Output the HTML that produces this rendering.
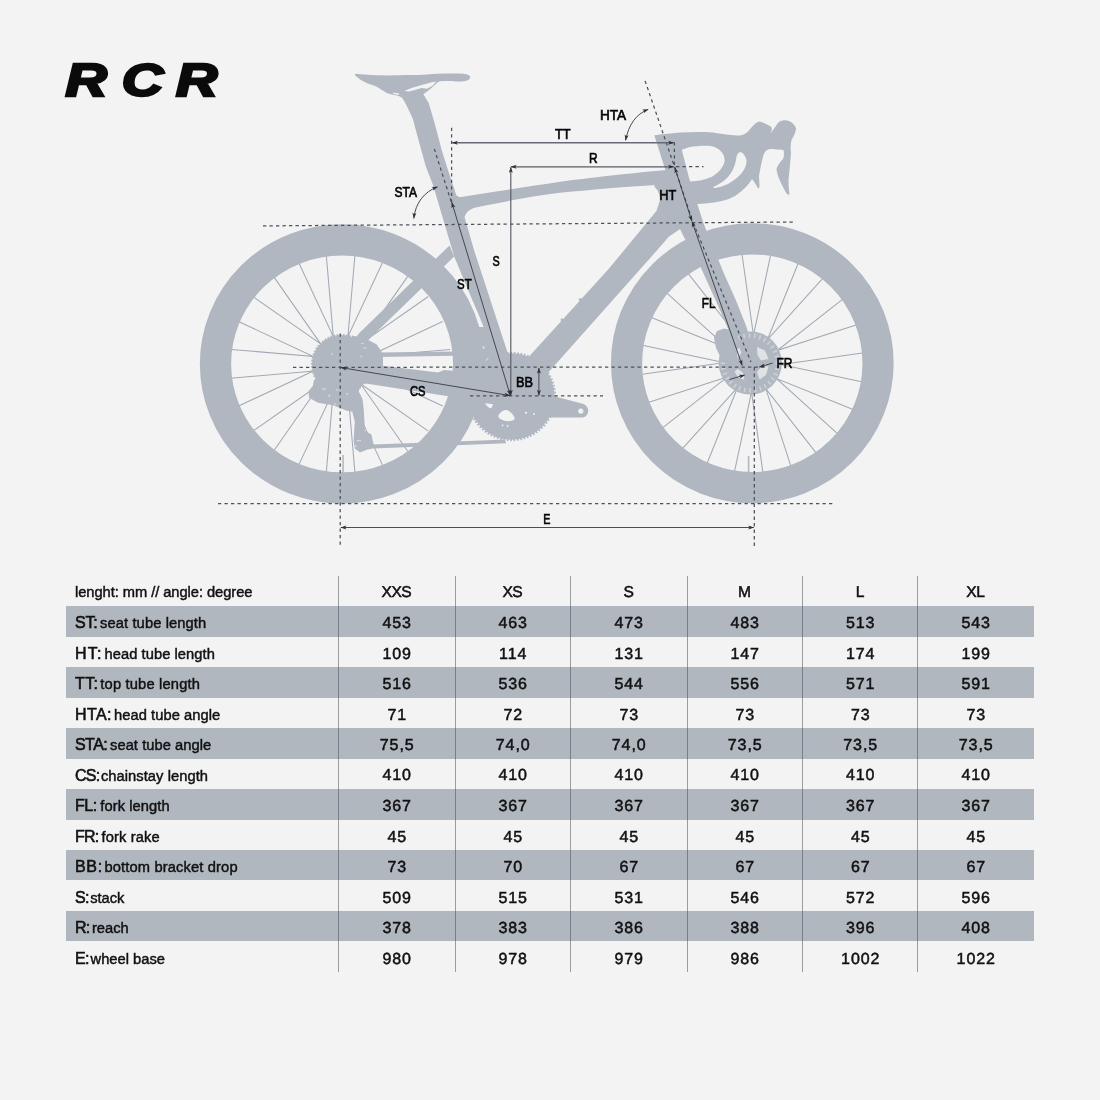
<!DOCTYPE html>
<html lang="en"><head><meta charset="utf-8"><title>RCR geometry</title>
<style>
html,body{margin:0;padding:0}
body{width:1100px;height:1100px;background:#f3f3f3;position:relative;overflow:hidden;font-family:"Liberation Sans",sans-serif;color:#111}
#tbl{position:absolute;left:0;top:0;width:1100px;height:1100px}
.row{position:absolute;left:65.6px;width:968.2px;height:30.45px}
.row.band{background:#b0b7bf}
.lab{position:absolute;left:9.4px;top:0;line-height:30.5px;font-size:14.7px;white-space:nowrap;padding-top:8px;line-height:18px;-webkit-text-stroke:0.45px #111;letter-spacing:-0.05px}
.lab b{font-weight:normal;font-size:16px;-webkit-text-stroke:0.6px #111;letter-spacing:-0.1px}
.lab.hd{padding-top:6.9px}
.v{position:absolute;top:0;width:116px;text-align:center;font-size:16px;line-height:18px;padding-top:8.6px;letter-spacing:0.9px;text-indent:1.2px;text-rendering:geometricPrecision;-webkit-text-stroke:0.5px #111}
.head .v{letter-spacing:-0.6px;text-indent:-0.6px;padding-top:8.05px;font-size:15.6px}
.c0{left:273px}.c1{left:389px}.c2{left:505px}.c3{left:621px}.c4{left:736.5px}.c5{left:852px}
.vl{position:absolute;top:575.6px;width:1px;height:396px;background:rgba(70,76,86,0.52)}
</style></head><body>
<svg width="1100" height="565" viewBox="0 0 1100 565" style="position:absolute;left:0;top:0">
<defs>
<marker id="ah" viewBox="-6 -4 8 8" markerWidth="8" markerHeight="8" refX="0" refY="0" orient="auto-start-reverse" markerUnits="userSpaceOnUse"><path d="M0.3 0L-5.6 -2L-4.2 0L-5.6 2Z" fill="#2e3138" stroke="none"/></marker>
</defs>
<g id="logo" font-family="'Liberation Sans',sans-serif" font-weight="bold" font-style="italic" font-size="45.5" fill="#0b0b0b" stroke="#0b0b0b" stroke-width="2.6" stroke-linejoin="miter">
<text transform="translate(65.5 96) scale(1.26 1)" x="0.00 44.6 87.7" y="0">RCR</text>
</g>
<g id="bike" fill="#b0b7c0" stroke="none">
<path d="M355.0 254.2L345.6 363.6M382.9 261.7L336.4 361.1M407.9 276.1L345.0 366.1M428.3 296.5L338.3 359.4M442.7 321.5L343.3 368.0M450.2 349.4L340.8 358.8M450.2 378.2L340.8 368.8M442.7 406.1L343.3 359.6M428.3 431.1L338.3 368.2M407.9 451.5L345.0 361.5M382.9 465.9L336.4 366.5M355.0 473.4L345.6 364.0M326.2 473.4L335.6 364.0M298.3 465.9L344.8 366.5M273.3 451.5L336.2 361.5M252.9 431.1L342.9 368.2M238.5 406.1L337.9 359.6M231.0 378.2L340.4 368.8M231.0 349.4L340.4 358.8M238.5 321.5L337.9 368.0M252.9 296.5L342.9 359.4M273.3 276.1L336.2 366.1M298.3 261.7L344.8 361.1M326.2 254.2L335.6 363.6" fill="none" stroke="#a2a9b4" stroke-width="1.05"/>
<path d="M741.9 253.6L757.3 362.3M770.7 254.6L747.8 361.9M798.3 263.0L757.3 364.9M822.8 278.3L749.3 359.8M842.5 299.4L756.1 367.1M856.0 324.9L751.6 358.7M862.5 353.0L753.8 368.4M861.5 381.8L754.2 358.9M853.1 409.4L751.2 368.4M837.8 433.9L756.3 360.4M816.7 453.6L749.0 367.2M791.2 467.1L757.4 362.7M763.1 473.6L747.7 364.9M734.3 472.6L757.2 365.3M706.7 464.2L747.7 362.3M682.2 448.9L755.7 367.4M662.5 427.8L748.9 360.1M649.0 402.3L753.4 368.5M642.5 374.2L751.2 358.8M643.5 345.4L750.8 368.3M651.9 317.8L753.8 358.8M667.2 293.3L748.7 366.8M688.3 273.6L756.0 360.0M713.8 260.1L747.6 364.5" fill="none" stroke="#a2a9b4" stroke-width="1.05"/>
<ellipse cx="342.1" cy="363.9" rx="126.6" ry="124.05" fill="none" stroke="#b0b7c0" stroke-width="31.3"/>
<ellipse cx="752.3" cy="363.2" rx="125.75" ry="124.4" fill="none" stroke="#b0b7c0" stroke-width="31.2"/>
<rect x="342.3" y="455" width="1.5" height="19"/><rect x="747.8" y="456" width="1.6" height="19"/>
<path d="M355.3 73.7 C359 74.2 363 74.5 367.7 74.7 C374 75.1 380 75.3 385.5 75.4 C394 75.5 402 75.3 409.1 75.1 C415 74.9 421 74.7 426.8 74.4 C433 74.1 439 73.8 444.6 73.6 C451 73.4 458 73.4 463.5 73.8 C467.5 74.2 470.3 75.4 470.2 77.2 C470 79.4 468 80.6 465.2 81 C462 81.5 459 81.6 456.4 81.5 C454.5 81.3 453 81 451.7 81 C447.5 80.9 443.5 81.1 439.8 81.3 C438.5 82 437.3 82.8 436.3 83.6 C434.2 85.4 432.3 87.2 430.4 89 C428 90.9 425.6 92.7 423.3 94.3 L426.8 100.2 L430.4 112 L411.5 112 L402 97.8 C400.5 97 399 96.1 397.3 95.5 C394.5 95 391.5 94.6 389 93.7 C385.5 92.3 382.5 90.3 379.6 88.4 C375.8 86.3 371.8 84.8 367.7 83.6 C363 81.6 358.5 78.8 355.3 75.6 C354.9 75 354.9 74.1 355.3 73.7 Z"/>
<path fill="#f3f3f3" d="M404.2 91 L411.5 88 L420.9 85.2 L432.7 82 L436.2 81.6 L432.2 86 L427 88.7 L421.5 88.1 L415 89.9 L409 91.4 Z"/>
<path fill="#f3f3f3" d="M392.8 92.6 L399.4 93.6 L398.4 95 L393.6 94 Z"/>
<path d="M403.5 99 L423 94.5 L428.7 103.1 L434.5 122.7 L441.8 150.4 L449.1 173.6 L456.4 195.5 L459.5 197.2 L470 206 C466 209 464 212.5 464.5 217 L474 250 L502.4 336.7 L507.8 353 L519 398 L470 398 L470 327 L483.6 327 Q478.5 313.5 472.3 300 L454.2 256.4 L450.9 245.5 L440.4 210 L433.1 185.3 L425.8 166.4 L419.3 143.1 L412.7 118.4 Z"/>
<path d="M455.5 195.6 L459.5 197.2 C495 191.5 530 186.5 560 181.8 C600 176.3 640 172.5 666 170 L672 186 L656 185 C625 186.5 595 189.5 560 192.8 C530 196.3 500 202.5 478 207 C471 208.4 466.5 211 464.5 217 L458 200 Z"/>
<path d="M654.4 135.6 L690 133.4 L681.8 149.7 L689.2 178.4 L697.3 204 L703.6 223.6 L723.6 272.7 L735.8 300 L746 325.5 L753 348 L748 372 L738 366 L732 338 L715.5 300 L698.2 261.8 L683.6 236.4 L680 229 L660 215 L660 201.8 C660 196 659 190.5 654 186.2 L666 172 Z"/>
<path d="M660 200 L681 228.6 L669 236.4 L656.4 251 L549 371.8 L520 400 L505 380 L529 356.4 L560 322.4 L609 268.6 L656.4 211 Z"/>
<circle cx="580.3" cy="299.6" r="1.5"/><circle cx="562" cy="319.8" r="1.5"/><circle cx="489.2" cy="311.5" r="1.4"/><circle cx="495" cy="334" r="1.4"/>
<path fill="#f3f3f3" opacity="0.75" d="M482.6 346.4 L484 346 L484.6 348.6 L483.2 349 Z M485.2 360.4 L488.6 357.4 L489.2 358.2 L485.8 361.2 Z"/>
<path d="M449.5 245.5 L454.2 256.6 L369.3 339 L350 366 L338 360 L359.1 333.3 Z"/>
<path d="M340 358 L381 365.6 L438 372.6 L444 370 L470 372 L512 388 L512 402 L450 396.6 L362.7 383 L338 374 Z"/>
<path d="M654.4 135.6 L660 134.6 C680 131.8 700 131.6 713 132.4 C725 134.2 733 135.6 740 135.5 C746 134.5 748 131.5 751 128 C754 124.5 756 122.5 759 121.5 C762 121.6 766 124 770 126 C772.5 127.5 772.5 130 770 134 C772 132 775 127 778 123 C780 120.6 783.5 119.6 787 120.5 C790.5 121.2 794 123.5 796 128 C796.3 131 794 136 791.5 140 C790.3 145 790.6 150 791 152 C790.6 160 789.4 172 788.5 180 C788.4 186 789 190 789.5 194 L788 195 C786 193 783.5 188 782 185 C780 181 777.6 176 776.5 170 C776.6 167 779 163 783 159 C784.2 156 784.2 153 783.5 150 L779 149.5 C775 149.5 771 149 770 149 C767 149.6 765 151 763.5 155 C762 160 760 170 759 176 C759 180 759.6 183 759.5 186 L759 188.5 L757.5 187.5 C756 185 754.5 182 752 179 C749 184 744 190 735 196 C727 200.5 718 202.5 705 203.4 L697.3 204 L688 204 L682 181.6 L690.8 181.6 C698 181 705 180 712 176.7 C718 173 722.5 168.5 724.5 162 C725.3 156 722 150.5 715.3 147.3 C709 145.2 700 145.6 689.1 147.3 L681.8 149.7 Z"/>
<path fill="#f3f3f3" d="M740 152 C742.5 152.2 745 155 746.5 160 C746.6 165 745 169.5 740 175 C734 181 726 185.5 720 187 C717 187.8 713.5 188.4 713 187.2 C716 185.8 722 183 728 177 C732 172.5 735 166 736 160 C736.3 156.5 737.5 153 740 152 Z"/>
<circle cx="341.5" cy="364.5" r="29.6"/>
<circle cx="341.5" cy="364.5" r="29.6" fill="none" stroke="#b0b7c0" stroke-width="2" stroke-dasharray="1.6 1.6"/>
<path d="M352 335.5 L366.3 339 L376.5 344.2 L381.6 351.8 L383 358.5 L383 368 L352 368 Z"/>
<path d="M314 380 L312.8 386 L308.4 391.3 L309 397.7 L318 402.7 L333.2 405.3 L346 410.4 L352.3 411.7 L354.8 421.8 L353.6 441 L354.8 448.6 L360 452.4 L366.3 449.9 L374 446.5 L371.4 434.6 L365 430.8 L363.7 409.1 L362.5 399 L358.7 391.3 L361.2 385 L340 372 Z"/>
<path fill="#f3f3f3" opacity="0.55" d="M331 353.5h2.2v1.2h-2.2z M361 343h2.6v1.1h-2.6z M363.5 347.6h3v1.2h-3z M360.6 355.5h1.4v2h-1.4z M322 388.4h4.2v1.3h-4.2z M336 389.3h2.6v1.2h-2.6z M328.5 394.5h1.6v2.4h-1.6z M346 393h2.2v1.4h-2.2z M334 403.5h2v1.2h-2z M356.5 440h4.5v1.3h-4.5z M355 445h1.4v2h-1.4z"/>
<path d="M380 352.4 L453 351.4 L453 355.8 L380 357 Z"/>
<path d="M368 444.8 L372.7 444.6 L462.7 441.3 L505 439.6 L506 443.2 L462.7 445 L372.7 448.4 L368 449.6 Z"/>
<circle cx="511.5" cy="396.5" r="43.2"/>
<circle cx="511.5" cy="396.5" r="43.6" fill="none" stroke="#b0b7c0" stroke-width="2.2" stroke-dasharray="1.7 1.7"/>
<path d="M500 388 L556 396.8 L581.8 403.4 C586 404.5 588.4 407.5 588.2 410.8 C588 414.5 586 417 583 417.4 L550.5 417.6 L505 410 Z"/>
<circle cx="580.8" cy="411.1" r="2.6" fill="#f3f3f3"/>
<path fill="#f3f3f3" d="M498.2 416 C499.5 412.5 503.5 409.6 507 410 C510.5 411.5 514 415 514.8 418.6 C514 420.8 510 421.6 506 421 C502 420.3 498.6 418.6 498.2 416 Z"/>
<path fill="#f3f3f3" d="M485 403.2 L493.2 404.2 L491.2 408.4 C488.5 407.6 486.2 405.6 485 403.2 Z"/>
<circle cx="526" cy="412.8" r="1.1" fill="#f3f3f3"/><circle cx="534" cy="414" r="0.9" fill="#f3f3f3"/><circle cx="502.6" cy="425.4" r="0.9" fill="#f3f3f3"/><circle cx="507.6" cy="426" r="0.9" fill="#f3f3f3"/>
<circle cx="750.3" cy="363" r="31.6"/>
<circle cx="750.3" cy="363" r="27.4" fill="none" stroke="#f3f3f3" stroke-width="4.6" stroke-dasharray="1.7 3.6" opacity="0.42"/>
<path fill="#f3f3f3" opacity="0.72" d="M757 347 L765 350.5 L768.5 359 L761 360.5 L757.5 355 Z M762 366 L768.5 366.5 L766 375 L759.5 379.5 L757 372 Z M737.5 369 L743 372.5 L744.5 380 L738 377.5 L734.5 371.5 Z M733.5 352 L739.5 347.5 L741.5 353 L737 358.5 L732.5 359 Z"/>
<path d="M717 331 L724 328.5 L731 330 L736 343 L738 362 L730 366 L722 360 L716 348 L714 338 Z"/>
</g>
<g id="dims" fill="none" stroke="#3d4148" stroke-width="0.95">
<path stroke-dasharray="3.3 3.2" stroke="#4d5159" stroke-width="1.25" d="M263 225.9 L795 222"/>
<path stroke-dasharray="3.3 3.2" stroke="#4d5159" stroke-width="1.25" d="M218 503.6 L834 503.6"/>
<path stroke-dasharray="3.3 3.2" stroke="#4d5159" stroke-width="1.25" d="M293 367.3 L766 367.1"/>
<path stroke-dasharray="3.3 3.2" stroke="#4d5159" stroke-width="1.25" d="M470 395.9 L603 395.9"/>
<path stroke-dasharray="3.3 3.2" stroke="#4d5159" stroke-width="1.25" d="M340.2 333.5 L340.2 547"/>
<path stroke-dasharray="3.3 3.2" stroke="#4d5159" stroke-width="1.25" d="M754.3 367.1 L754.3 547"/>
<path stroke-dasharray="3.3 3.2" stroke="#4d5159" stroke-width="1.25" d="M451.6 127.8 L451.6 204"/>
<path stroke-dasharray="3.3 3.2" stroke="#4d5159" stroke-width="1.25" d="M434.3 148.9 L452.7 206.4"/>
<path stroke-dasharray="3.3 3.2" stroke="#4d5159" stroke-width="1.25" d="M645.1 80.9 L674.5 166.7 L692.7 221.8 L751 362"/>
<path stroke-dasharray="3.3 3.2" stroke="#4d5159" stroke-width="1.25" d="M674.4 142.3 L674.4 166.7 L703.5 166.7"/>
<path marker-start="url(#ah)" marker-end="url(#ah)" stroke="#666a74" stroke-width="1.45" d="M452.2 142.8 L673.8 142.8"/>
<path marker-start="url(#ah)" marker-end="url(#ah)" stroke="#585c64" stroke-width="1.15" d="M511 166.8 L673.8 166.8"/>
<path marker-start="url(#ah)" marker-end="url(#ah)" stroke="#585c64" stroke-width="1.15" d="M510.8 167.2 L510.8 395.4"/>
<path marker-start="url(#ah)" marker-end="url(#ah)" d="M451.8 202.4 L510.3 395.4"/>
<path marker-start="url(#ah)" marker-end="url(#ah)" d="M341 367.6 L510 395.6"/>
<path marker-start="url(#ah)" marker-end="url(#ah)" d="M538.9 368 L538.9 395.4"/>
<path marker-start="url(#ah)" marker-end="url(#ah)" stroke="#4a4e56" stroke-width="1.05" d="M340.8 527.5 L753.8 527.5"/>
<path marker-start="url(#ah)" marker-end="url(#ah)" d="M674.8 167.6 L691.8 221"/>
<path marker-start="url(#ah)" marker-end="url(#ah)" d="M692 221.6 L742.2 365.4"/>
<path marker-end="url(#ah)" d="M772.7 363 L759.4 367"/>
<path marker-end="url(#ah)" d="M729.5 379.5 L744.7 375"/>
<path marker-start="url(#ah)" marker-end="url(#ah)" d="M437.5 186.8 C424 192 415.5 203 413.8 218.4"/>
<path marker-start="url(#ah)" marker-end="url(#ah)" d="M648.2 109.4 C636 114 628.5 125 625.6 140.4"/>
</g>
<g id="labels" font-family="'Liberation Sans',sans-serif" font-size="14" fill="#050505" stroke="#050505" stroke-width="0.65">
<text x="394.5" y="197" textLength="22.5" lengthAdjust="spacingAndGlyphs">STA</text>
<text x="600" y="119.6" textLength="26.2" lengthAdjust="spacingAndGlyphs">HTA</text>
<text x="555" y="139.2" textLength="15.6" lengthAdjust="spacingAndGlyphs">TT</text>
<text x="589.1" y="163.1" textLength="8.6" lengthAdjust="spacingAndGlyphs">R</text>
<text x="659.3" y="199.8" textLength="17" lengthAdjust="spacingAndGlyphs">HT</text>
<text x="492.6" y="265.6" textLength="7.2" lengthAdjust="spacingAndGlyphs">S</text>
<text x="457.1" y="288.8" textLength="14.6" lengthAdjust="spacingAndGlyphs">ST</text>
<text x="701.8" y="308.2" textLength="13.6" lengthAdjust="spacingAndGlyphs">FL</text>
<text x="776.5" y="367.5" textLength="16" lengthAdjust="spacingAndGlyphs">FR</text>
<text x="410" y="395.5" textLength="15.5" lengthAdjust="spacingAndGlyphs">CS</text>
<text x="516.1" y="386.6" textLength="17" lengthAdjust="spacingAndGlyphs">BB</text>
<text x="543.2" y="524.1" textLength="7.2" lengthAdjust="spacingAndGlyphs">E</text>
</g>
</svg>
<div id="tbl">
<div class="row head" style="top:575.95px">
<span class="lab hd">lenght: mm // angle: degree</span>
<span class="v c0">XXS</span>
<span class="v c1">XS</span>
<span class="v c2">S</span>
<span class="v c3">M</span>
<span class="v c4">L</span>
<span class="v c5">XL</span>
</div>
<div class="row band" style="top:606.40px">
<span class="lab" style="margin-top:0.0px"><b style="letter-spacing:-0.203px">ST:</b> <span class="d" style="letter-spacing:0.112px;margin-left:-1.53px">seat tube length</span></span>
<span class="v c0" style="margin-top:0.0px">453</span>
<span class="v c1" style="margin-top:0.0px">463</span>
<span class="v c2" style="margin-top:0.0px">473</span>
<span class="v c3" style="margin-top:0.0px">483</span>
<span class="v c4" style="margin-top:0.0px">513</span>
<span class="v c5" style="margin-top:0.0px">543</span>
</div>
<div class="row" style="top:636.85px">
<span class="lab" style="margin-top:0.1px"><b style="letter-spacing:1.19px">HT:</b> <span class="d" style="letter-spacing:0.056px;margin-left:-2.09px">head tube length</span></span>
<span class="v c0" style="margin-top:0.1px">109</span>
<span class="v c1" style="margin-top:0.1px">114</span>
<span class="v c2" style="margin-top:0.1px">131</span>
<span class="v c3" style="margin-top:0.1px">147</span>
<span class="v c4" style="margin-top:0.1px">174</span>
<span class="v c5" style="margin-top:0.1px">199</span>
</div>
<div class="row band" style="top:667.30px">
<span class="lab" style="margin-top:0.1px"><b style="letter-spacing:0.392px">TT:</b> <span class="d" style="letter-spacing:0.18px;margin-left:-2.13px">top tube length</span></span>
<span class="v c0" style="margin-top:0.1px">516</span>
<span class="v c1" style="margin-top:0.1px">536</span>
<span class="v c2" style="margin-top:0.1px">544</span>
<span class="v c3" style="margin-top:0.1px">556</span>
<span class="v c4" style="margin-top:0.1px">571</span>
<span class="v c5" style="margin-top:0.1px">591</span>
</div>
<div class="row" style="top:697.75px">
<span class="lab" style="margin-top:0.2px"><b style="letter-spacing:0.382px">HTA:</b> <span class="d" style="letter-spacing:0.06px;margin-left:-1.82px">head tube angle</span></span>
<span class="v c0" style="margin-top:0.2px">71</span>
<span class="v c1" style="margin-top:0.2px">72</span>
<span class="v c2" style="margin-top:0.2px">73</span>
<span class="v c3" style="margin-top:0.2px">73</span>
<span class="v c4" style="margin-top:0.2px">73</span>
<span class="v c5" style="margin-top:0.2px">73</span>
</div>
<div class="row band" style="top:728.20px">
<span class="lab" style="margin-top:0.2px"><b style="letter-spacing:-0.553px">STA:</b> <span class="d" style="letter-spacing:0.06px;margin-left:-1.2px">seat tube angle</span></span>
<span class="v c0" style="margin-top:0.2px">75,5</span>
<span class="v c1" style="margin-top:0.2px">74,0</span>
<span class="v c2" style="margin-top:0.2px">74,0</span>
<span class="v c3" style="margin-top:0.2px">73,5</span>
<span class="v c4" style="margin-top:0.2px">73,5</span>
<span class="v c5" style="margin-top:0.2px">73,5</span>
</div>
<div class="row" style="top:758.65px">
<span class="lab" style="margin-top:0.2px"><b style="letter-spacing:-0.75px">CS:</b> <span class="d" style="letter-spacing:0.057px;margin-left:-2.5px">chainstay length</span></span>
<span class="v c0" style="margin-top:0.2px">410</span>
<span class="v c1" style="margin-top:0.2px">410</span>
<span class="v c2" style="margin-top:0.2px">410</span>
<span class="v c3" style="margin-top:0.2px">410</span>
<span class="v c4" style="margin-top:0.2px">410</span>
<span class="v c5" style="margin-top:0.2px">410</span>
</div>
<div class="row band" style="top:789.10px">
<span class="lab" style="margin-top:0.3px"><b style="letter-spacing:-0.452px">FL:</b> <span class="d" style="letter-spacing:0.082px;margin-left:-0.5px">fork length</span></span>
<span class="v c0" style="margin-top:0.3px">367</span>
<span class="v c1" style="margin-top:0.3px">367</span>
<span class="v c2" style="margin-top:0.3px">367</span>
<span class="v c3" style="margin-top:0.3px">367</span>
<span class="v c4" style="margin-top:0.3px">367</span>
<span class="v c5" style="margin-top:0.3px">367</span>
</div>
<div class="row" style="top:819.55px">
<span class="lab" style="margin-top:0.4px"><b style="letter-spacing:-0.75px">FR:</b> <span class="d" style="letter-spacing:0.1px;margin-left:-0.95px">fork rake</span></span>
<span class="v c0" style="margin-top:0.4px">45</span>
<span class="v c1" style="margin-top:0.4px">45</span>
<span class="v c2" style="margin-top:0.4px">45</span>
<span class="v c3" style="margin-top:0.4px">45</span>
<span class="v c4" style="margin-top:0.4px">45</span>
<span class="v c5" style="margin-top:0.4px">45</span>
</div>
<div class="row band" style="top:850.00px">
<span class="lab" style="margin-top:0.4px"><b style="letter-spacing:0.703px">BB:</b> <span class="d" style="letter-spacing:0.141px;margin-left:-2.5px">bottom bracket drop</span></span>
<span class="v c0" style="margin-top:0.4px">73</span>
<span class="v c1" style="margin-top:0.4px">70</span>
<span class="v c2" style="margin-top:0.4px">67</span>
<span class="v c3" style="margin-top:0.4px">67</span>
<span class="v c4" style="margin-top:0.4px">67</span>
<span class="v c5" style="margin-top:0.4px">67</span>
</div>
<div class="row" style="top:880.45px">
<span class="lab" style="margin-top:0.5px"><b style="letter-spacing:-0.75px">S:</b> <span class="d" style="letter-spacing:0.0px;margin-left:-2.5px">stack</span></span>
<span class="v c0" style="margin-top:0.5px">509</span>
<span class="v c1" style="margin-top:0.5px">515</span>
<span class="v c2" style="margin-top:0.5px">531</span>
<span class="v c3" style="margin-top:0.5px">546</span>
<span class="v c4" style="margin-top:0.5px">572</span>
<span class="v c5" style="margin-top:0.5px">596</span>
</div>
<div class="row band" style="top:910.90px">
<span class="lab" style="margin-top:0.5px"><b style="letter-spacing:-0.75px">R:</b> <span class="d" style="letter-spacing:-0.0px;margin-left:-1.62px">reach</span></span>
<span class="v c0" style="margin-top:0.5px">378</span>
<span class="v c1" style="margin-top:0.5px">383</span>
<span class="v c2" style="margin-top:0.5px">386</span>
<span class="v c3" style="margin-top:0.5px">388</span>
<span class="v c4" style="margin-top:0.5px">396</span>
<span class="v c5" style="margin-top:0.5px">408</span>
</div>
<div class="row" style="top:941.35px">
<span class="lab" style="margin-top:0.6px"><b style="letter-spacing:-0.75px">E:</b> <span class="d" style="letter-spacing:0.0px;margin-left:-2.05px">wheel base</span></span>
<span class="v c0" style="margin-top:0.6px">980</span>
<span class="v c1" style="margin-top:0.6px">978</span>
<span class="v c2" style="margin-top:0.6px">979</span>
<span class="v c3" style="margin-top:0.6px">986</span>
<span class="v c4" style="margin-top:0.6px">1002</span>
<span class="v c5" style="margin-top:0.6px">1022</span>
</div>
<i class="vl" style="left:338px"></i>
<i class="vl" style="left:455px"></i>
<i class="vl" style="left:570px"></i>
<i class="vl" style="left:686.5px"></i>
<i class="vl" style="left:802px"></i>
<i class="vl" style="left:917px"></i>
</div>
</body></html>
